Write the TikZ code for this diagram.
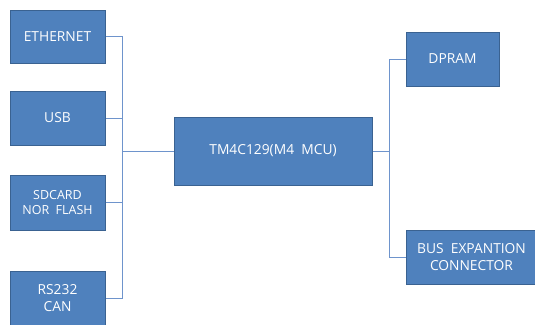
\documentclass[tikz,border=0pt]{standalone}
\usepackage{fontspec}
\setmainfont{Open Sans}
\definecolor{boxblue}{HTML}{4F81BD}
\definecolor{boxedge}{HTML}{3A6291}
\definecolor{wireblue}{HTML}{6E94CC}

\begin{document}
\begin{tikzpicture}[x=1pt, y=-1pt,
    blk/.style={draw=boxedge, fill=boxblue, line width=1pt, text=white,
      font=\fontsize{13.8}{17.5}\selectfont, align=center, inner sep=0pt},
    smallblk/.style={blk, font=\fontsize{12.5}{15}\selectfont},
    wire/.style={draw=wireblue, line width=0.8pt}]

  % --- canvas ---
  \useasboundingbox (0,0) rectangle (535,324);
  \clip (0,0) rectangle (535,324);

  % --- left peripherals ---
  \node[blk, minimum width=95pt, minimum height=53pt] (eth) at (57.5,36.5) {ETHERNET};
  \node[blk, minimum width=95pt, minimum height=54pt] (usb) at (57.5,118) {USB};
  \node[smallblk, minimum width=95pt, minimum height=55pt] (sd) at (57.5,202.5) {SDCARD\\NOR\ \ FLASH};
  \node[blk, minimum width=95pt, minimum height=54pt] (rs) at (57.5,298) {RS232\\CAN};

  % --- MCU ---
  \node[blk, minimum width=198pt, minimum height=68pt] (mcu) at (273,151) {TM4C129(M4\ \ MCU)};

  % --- right side ---
  \node[blk, minimum width=93pt, minimum height=54pt] (dpram) at (452.5,59) {DPRAM};
  \node[blk, minimum width=131pt, minimum height=54pt] (busx) at (471.5,257) {BUS\ \ EXPANTION\\CONNECTOR};

  % --- bus junctions ---
  \coordinate (lj) at (122.5,151);
  \coordinate (rj) at (389,151);

  % --- wires ---
  \draw[wire] (eth.east) -| (lj);
  \draw[wire] (usb.east) -| (lj);
  \draw[wire] (sd.east) -| (lj);
  \draw[wire] (rs.east) -| (lj);
  \draw[wire] (lj) -- (mcu.west);

  \draw[wire] (dpram.west) -| (rj);
  \draw[wire] (busx.west) -| (rj);
  \draw[wire] (mcu.east) -- (rj);

\end{tikzpicture}
\end{document}
